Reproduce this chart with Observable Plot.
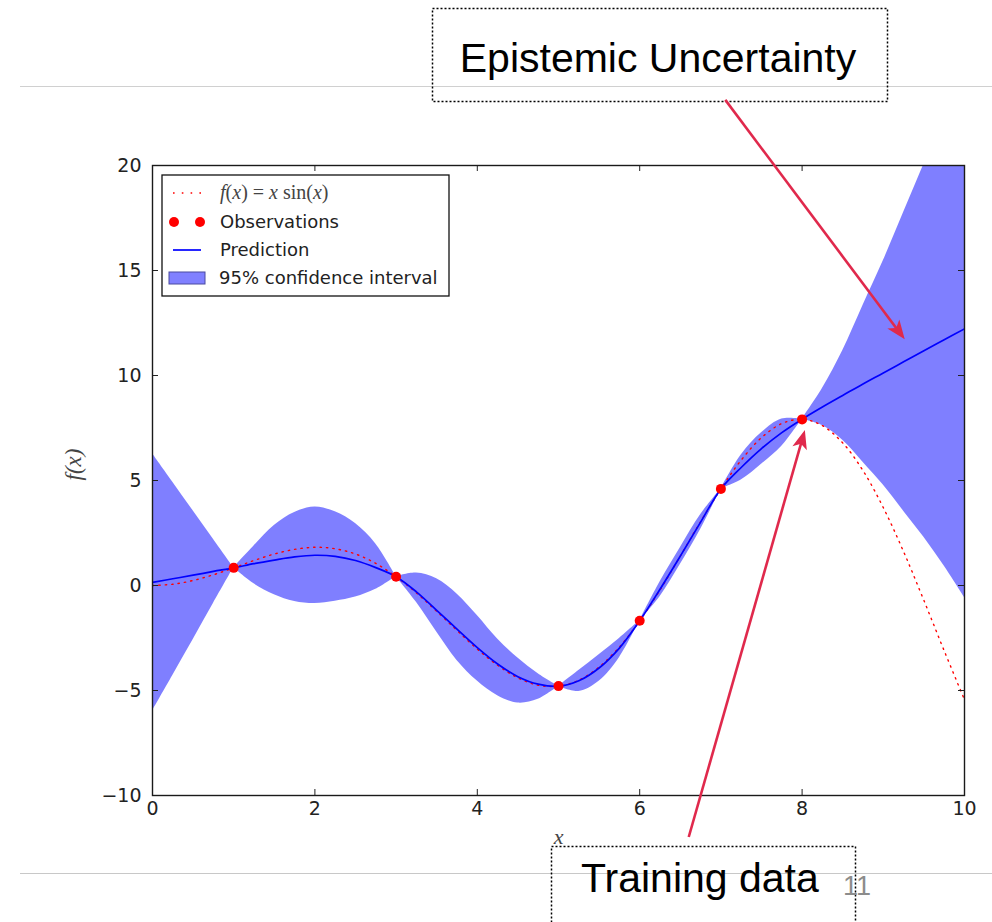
<!DOCTYPE html>
<html><head><meta charset="utf-8">
<script src="https://cdn.jsdelivr.net/npm/d3@7"></script>
<script src="https://cdn.jsdelivr.net/npm/@observablehq/plot@0.6"></script>
<style>body{margin:0;background:#fff;} svg{display:block;}</style>
</head><body>
<script>
// ---- data ----
const xGrid = [0,0.25,0.5,0.75,1,1.25,1.5,1.75,2,2.25,2.5,2.75,3,3.25,3.5,3.75,4,4.25,4.5,4.75,5,5.25,5.5,5.75,6,6.25,6.5,6.75,7,7.25,7.5,7.75,8,8.25,8.5,8.75,9,9.25,9.5,9.75,10];
const trueF = [0,0.06,0.24,0.51,0.84,1.19,1.50,1.72,1.82,1.75,1.50,1.05,0.42,-0.35,-1.23,-2.14,-3.03,-3.80,-4.40,-4.75,-4.79,-4.51,-3.88,-2.93,-1.68,-0.21,1.40,3.04,4.60,5.97,7.04,7.71,7.92,7.61,6.79,5.47,3.71,1.61,-0.71,-3.11,-5.44];
const predMean = [0.15,0.32,0.49,0.67,0.84,1.04,1.21,1.36,1.44,1.39,1.19,0.85,0.42,-0.30,-1.18,-2.08,-2.96,-3.74,-4.34,-4.70,-4.80,-4.54,-3.93,-2.98,-1.68,-0.18,1.40,3.02,4.60,5.62,6.52,7.28,7.92,8.50,9.05,9.60,10.12,10.65,11.18,11.70,12.22];
const ciUpper = [6.27,4.92,3.56,2.20,0.84,1.88,2.86,3.48,3.74,3.51,2.95,1.98,0.42,0.59,0.32,-0.40,-1.43,-2.55,-3.45,-4.20,-4.80,-4.05,-3.30,-2.52,-1.68,0.17,1.80,3.37,4.60,6.22,7.27,7.93,7.92,9.38,11.18,13.33,15.46,17.76,20.06,22.47,25.01];
const ciLower = [-5.97,-4.28,-2.58,-0.86,0.84,0.08,-0.44,-0.76,-0.86,-0.75,-0.55,-0.18,0.42,-0.80,-2.22,-3.57,-4.55,-5.25,-5.60,-5.42,-4.80,-5.05,-4.56,-3.44,-1.68,-0.53,1.00,2.67,4.60,5.02,5.77,6.63,7.92,7.62,6.92,5.87,4.78,3.54,2.30,0.93,-0.57];
const obsX = [1,3,5,6,7,8];
const obsY = [0.84,0.42,-4.79,-1.68,4.60,7.91];
const xTicks = [0,2,4,6,8,10];
const yTicks = [-10,-5,0,5,10,15,20];
const legendLabels = ["Observations","Prediction","95% confidence interval"];
const annotationTexts = ["Epistemic Uncertainty","Training data"];
const pageNumber = "11";
// arrow endpoints in data coordinates [x1, y1, x2, y2]
const epistemicArrow = [7.06, 23.1, 9.27, 11.7];
const trainingArrow = [6.61, -12.0, 8.04, 7.38];

// ---- tables ----
const predRows = xGrid.map((x,i)=>({x, y: predMean[i]}));
const trueRows = xGrid.map((x,i)=>({x, y: trueF[i]}));
const obsRows = obsX.map((x,i)=>({x, y: obsY[i]}));
const breaks = [0, ...obsX, 10];
const bandRows = [];
for (let s = 0; s < breaks.length-1; s++) {
  xGrid.forEach((x,i)=>{ if (x >= breaks[s] && x <= breaks[s+1]) bandRows.push({x, lo: ciLower[i], hi: ciUpper[i], seg: s}); });
}

const W = 992, H = 922, mL = 152, mR = 28, mT = 165, mB = 127;
const pw = W - mL - mR, ph = H - mT - mB;
const minus = d => d < 0 ? "\u2212" + Math.abs(d) : String(d);

const plot = Plot.plot({
  width: W, height: H,
  marginLeft: mL, marginRight: mR, marginTop: mT, marginBottom: mB,
  x: {domain: [0, 10]},
  y: {domain: [-10, 20]},
  style: {fontFamily: "DejaVu Sans, sans-serif", fontSize: "19px", color: "#222", background: "#fff", overflow: "visible"},
  marks: [
    Plot.areaY(bandRows, {x: "x", y1: "lo", y2: "hi", z: "seg", fill: "#0000ff", fillOpacity: 0.5, curve: "catmull-rom", clip: true}),
    Plot.lineY(trueRows, {x: "x", y: "y", stroke: "#ff0000", strokeWidth: 1.4, strokeDasharray: "1.4,5", curve: "catmull-rom", clip: true}),
    Plot.lineY(predRows, {x: "x", y: "y", stroke: "#0000ff", strokeWidth: 1.7, curve: "catmull-rom", clip: true}),
    Plot.dot(obsRows, {x: "x", y: "y", r: 5, fill: "#ff0000"}),
    Plot.tickX(xTicks, {x: d => d, insetTop: ph - 6, stroke: "#222"}),
    Plot.tickX(xTicks, {x: d => d, insetBottom: ph - 6, stroke: "#222"}),
    Plot.tickY(yTicks, {y: d => d, insetRight: pw - 6, stroke: "#222"}),
    Plot.tickY(yTicks, {y: d => d, insetLeft: pw - 6, stroke: "#222"}),
    Plot.frame({stroke: "#1a1a1a", strokeWidth: 1.4}),
    Plot.axisX(xTicks, {tickSize: 0, tickPadding: 6, label: null, tickFormat: minus}),
    Plot.axisY(yTicks, {tickSize: 0, tickPadding: 11, label: null, tickFormat: minus}),
    Plot.text(["f(x)"], {frameAnchor: "left", dx: -79, rotate: -90, fontFamily: "Liberation Serif, serif", fontStyle: "italic", fontSize: 23, fill: "#444"}),
    Plot.text(["x"], {frameAnchor: "bottom", dy: 48, fontFamily: "Liberation Serif, serif", fontStyle: "italic", fontSize: 22, fill: "#444"})
  ]
});
document.body.appendChild(plot);

const svg = d3.select(plot);
const sx = plot.scale("x"), sy = plot.scale("y");

// ---- legend ----
const lg = svg.append("g").attr("font-family", "DejaVu Sans, sans-serif").attr("font-size", 18).attr("fill", "#222").attr("text-anchor", "start");
lg.append("rect").attr("x", 162).attr("y", 175).attr("width", 287).attr("height", 121)
  .attr("fill", "#fff").attr("stroke", "#111").attr("stroke-width", 1.3);
lg.append("line").attr("x1", 173).attr("x2", 202).attr("y1", 193).attr("y2", 193)
  .attr("stroke", "#ff0000").attr("stroke-width", 1.6).attr("stroke-dasharray", "1.6,7.2");
const mt = lg.append("text").attr("x", 220).attr("y", 199).attr("text-anchor", "start").attr("font-family", "Liberation Serif, serif").attr("font-size", 20).attr("fill", "#444");
mt.append("tspan").attr("font-style", "italic").text("f");
mt.append("tspan").text("(");
mt.append("tspan").attr("font-style", "italic").text("x");
mt.append("tspan").text(") = ");
mt.append("tspan").attr("font-style", "italic").text("x");
mt.append("tspan").text(" sin(");
mt.append("tspan").attr("font-style", "italic").text("x");
mt.append("tspan").text(")");
lg.append("circle").attr("cx", 174).attr("cy", 222).attr("r", 5).attr("fill", "#ff0000");
lg.append("circle").attr("cx", 200).attr("cy", 222).attr("r", 5).attr("fill", "#ff0000");
lg.append("text").attr("x", 220).attr("y", 228).attr("text-anchor", "start").text(legendLabels[0]);
lg.append("line").attr("x1", 173).attr("x2", 201).attr("y1", 250).attr("y2", 250).attr("stroke", "#0000ff").attr("stroke-width", 1.7);
lg.append("text").attr("x", 220).attr("y", 256).attr("text-anchor", "start").text(legendLabels[1]);
lg.append("rect").attr("x", 169).attr("y", 272).attr("width", 36).attr("height", 12).attr("fill", "#8080ff").attr("stroke", "#4a4aa0").attr("stroke-width", 1);
lg.append("text").attr("x", 219).attr("y", 284).attr("text-anchor", "start").text(legendLabels[2]);

// ---- slide annotations ----
const an = svg.append("g").attr("text-anchor", "start");
an.append("rect").attr("x", 551).attr("y", 846).attr("width", 305).attr("height", 90).attr("fill", "#fff");
an.append("line").attr("x1", 20).attr("x2", 992).attr("y1", 86.5).attr("y2", 86.5).attr("stroke", "#d0d0d0").attr("stroke-width", 1);
an.append("line").attr("x1", 20).attr("x2", 992).attr("y1", 873.5).attr("y2", 873.5).attr("stroke", "#c8c8c8").attr("stroke-width", 1);
an.append("rect").attr("x", 432.5).attr("y", 8.5).attr("width", 455).attr("height", 93).attr("fill", "none")
  .attr("stroke", "#000").attr("stroke-width", 1.5).attr("stroke-dasharray", "2,2");
an.append("rect").attr("x", 551.5).attr("y", 846.5).attr("width", 304).attr("height", 100).attr("fill", "none")
  .attr("stroke", "#000").attr("stroke-width", 1.5).attr("stroke-dasharray", "2,2");
an.append("text").attr("x", 658).attr("y", 72).attr("text-anchor", "middle")
  .attr("font-family", "Liberation Sans, Arial, sans-serif").attr("font-size", 41).attr("fill", "#000").text(annotationTexts[0]);
an.append("text").attr("x", 581).attr("y", 892).attr("text-anchor", "start")
  .attr("font-family", "Liberation Sans, Arial, sans-serif").attr("font-size", 41).attr("fill", "#000").text(annotationTexts[1]);
an.append("text").attr("x", 843).attr("y", 895).attr("text-anchor", "start")
  .attr("font-family", "Liberation Sans, Arial, sans-serif").attr("font-size", 27).attr("fill", "#8c8c8c").text(pageNumber);

function arrow(a) {
  const x1 = sx.apply(a[0]), y1 = sy.apply(a[1]), x2 = sx.apply(a[2]), y2 = sy.apply(a[3]);
  const dx = x2 - x1, dy = y2 - y1, len = Math.hypot(dx, dy);
  const ux = dx / len, uy = dy / len, nx = -uy, ny = ux;
  const L = 19, hw = 7.5;
  const col = "#e0294c";
  an.append("line").attr("x1", x1).attr("y1", y1).attr("x2", x2 - ux * L * 0.7).attr("y2", y2 - uy * L * 0.7)
    .attr("stroke", col).attr("stroke-width", 2.6);
  an.append("polygon").attr("points", [
    [x2, y2], [x2 - ux * L + nx * hw, y2 - uy * L + ny * hw], [x2 - ux * L * 0.75, y2 - uy * L * 0.75], [x2 - ux * L - nx * hw, y2 - uy * L - ny * hw]
  ].map(p => p.join(",")).join(" ")).attr("fill", col);
}
arrow(epistemicArrow);
arrow(trainingArrow);
</script>
</body></html>
